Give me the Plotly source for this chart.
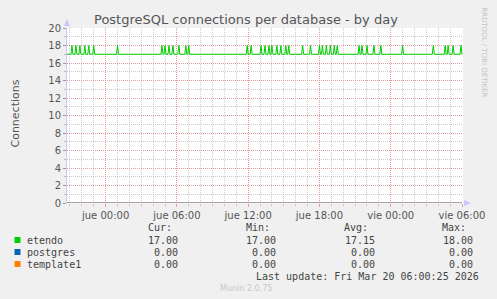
import plotly.graph_objects as go

# ---------------- data ----------------
series_names = ["etendo", "postgres", "template1"]
series_colors = ["#00CC00", "#0066B3", "#FF8000"]
stat_headers = ["Cur:", "Min:", "Avg:", "Max:"]
stat_cur = ["17.00", "0.00", "0.00"]
stat_min = ["17.00", "0.00", "0.00"]
stat_avg = ["17.15", "0.00", "0.00"]
stat_max = ["18.00", "0.00", "0.00"]

etendo_times = [
    "2026-03-18 20:45",
    "2026-03-18 21:05", "2026-03-18 21:10", "2026-03-18 21:15",
    "2026-03-18 21:25", "2026-03-18 21:30", "2026-03-18 21:35",
    "2026-03-18 21:45", "2026-03-18 21:50", "2026-03-18 21:55",
    "2026-03-18 22:10", "2026-03-18 22:15", "2026-03-18 22:20",
    "2026-03-18 22:30", "2026-03-18 22:35", "2026-03-18 22:40",
    "2026-03-18 22:55", "2026-03-18 23:00", "2026-03-18 23:05",
    "2026-03-19 00:55", "2026-03-19 01:00", "2026-03-19 01:05",
    "2026-03-19 04:40", "2026-03-19 04:45", "2026-03-19 04:50",
    "2026-03-19 04:55", "2026-03-19 05:00", "2026-03-19 05:05",
    "2026-03-19 05:15", "2026-03-19 05:20", "2026-03-19 05:25",
    "2026-03-19 05:35", "2026-03-19 05:40", "2026-03-19 05:45",
    "2026-03-19 06:05", "2026-03-19 06:10", "2026-03-19 06:15",
    "2026-03-19 06:40", "2026-03-19 06:45", "2026-03-19 06:50",
    "2026-03-19 06:55", "2026-03-19 07:00", "2026-03-19 07:05",
    "2026-03-19 11:50", "2026-03-19 11:55", "2026-03-19 12:00",
    "2026-03-19 12:10", "2026-03-19 12:15", "2026-03-19 12:20",
    "2026-03-19 13:00", "2026-03-19 13:05", "2026-03-19 13:10",
    "2026-03-19 13:20", "2026-03-19 13:25", "2026-03-19 13:30",
    "2026-03-19 13:40", "2026-03-19 13:45", "2026-03-19 13:50",
    "2026-03-19 13:55", "2026-03-19 14:00", "2026-03-19 14:05",
    "2026-03-19 14:20", "2026-03-19 14:25", "2026-03-19 14:30",
    "2026-03-19 14:40", "2026-03-19 14:45", "2026-03-19 14:50",
    "2026-03-19 15:05", "2026-03-19 15:10", "2026-03-19 15:15",
    "2026-03-19 15:20", "2026-03-19 15:25", "2026-03-19 15:30",
    "2026-03-19 16:30", "2026-03-19 16:35", "2026-03-19 16:40",
    "2026-03-19 17:10", "2026-03-19 17:15", "2026-03-19 17:20",
    "2026-03-19 17:55", "2026-03-19 18:00", "2026-03-19 18:05",
    "2026-03-19 18:10", "2026-03-19 18:15", "2026-03-19 18:20",
    "2026-03-19 18:30", "2026-03-19 18:35", "2026-03-19 18:40",
    "2026-03-19 18:50", "2026-03-19 18:55", "2026-03-19 19:00",
    "2026-03-19 19:10", "2026-03-19 19:15", "2026-03-19 19:20",
    "2026-03-19 19:25", "2026-03-19 19:30", "2026-03-19 19:35",
    "2026-03-19 21:15", "2026-03-19 21:20", "2026-03-19 21:25",
    "2026-03-19 21:30", "2026-03-19 21:35", "2026-03-19 21:40",
    "2026-03-19 21:55", "2026-03-19 22:00", "2026-03-19 22:05",
    "2026-03-19 22:30", "2026-03-19 22:35", "2026-03-19 22:40",
    "2026-03-19 23:05", "2026-03-19 23:10", "2026-03-19 23:15",
    "2026-03-20 00:55", "2026-03-20 01:00", "2026-03-20 01:05",
    "2026-03-20 03:30", "2026-03-20 03:35", "2026-03-20 03:40",
    "2026-03-20 04:30", "2026-03-20 04:35", "2026-03-20 04:40",
    "2026-03-20 04:45", "2026-03-20 04:50", "2026-03-20 04:55",
    "2026-03-20 05:10", "2026-03-20 05:15", "2026-03-20 05:20",
    "2026-03-20 05:50", "2026-03-20 05:55", "2026-03-20 06:00",
]
etendo_values = [17] + [17, 18, 17] * 43

postgres_times = ["2026-03-18 20:45", "2026-03-20 06:00"]
postgres_values = [0, 0]
template1_times = ["2026-03-18 20:45", "2026-03-20 06:00"]
template1_values = [0, 0]

x_tick_vals = ["2026-03-19 00:00", "2026-03-19 06:00", "2026-03-19 12:00",
               "2026-03-19 18:00", "2026-03-20 00:00", "2026-03-20 06:00"]
x_tick_text = ["jue 00:00", "jue 06:00", "jue 12:00",
               "jue 18:00", "vie 00:00", "vie 06:00"]
y_tick_vals = [0, 2, 4, 6, 8, 10, 12, 14, 16, 18, 20]

title_text = "PostgreSQL connections per database - by day"
y_title = "Connections"
side_text = "RRDTOOL / TOBI OETIKER"
last_update = "Last update: Fri Mar 20 06:00:25 2026"
footer = "Munin 2.0.75"

# ---------------- geometry ----------------
W, H = 497, 299
L, R, T, B = 67, 467, 28, 203


def px(x):
    return (x - L) / (R - L)


def py(y):
    return (B - y) / (B - T)


SANS = "DejaVu Sans"
MONO = "DejaVu Sans Mono"
MAJOR = "rgba(228,140,140,0.75)"
MINOR = "rgba(175,175,175,0.65)"
DOTS = "1px,1px"

fig = go.Figure()
fig.add_trace(go.Scatter(x=etendo_times, y=etendo_values, mode="lines",
                         line=dict(color=series_colors[0], width=1), showlegend=False))
fig.add_trace(go.Scatter(x=postgres_times, y=postgres_values, mode="lines",
                         line=dict(color=series_colors[1], width=1), showlegend=False))
fig.add_trace(go.Scatter(x=template1_times, y=template1_values, mode="lines",
                         line=dict(color="rgba(240,140,100,0.9)", width=1.2), showlegend=False))

fig.update_layout(
    width=W, height=H, autosize=False,
    margin=dict(l=L, r=W - R, t=T, b=H - B, pad=0),
    paper_bgcolor="#F0F0F0", plot_bgcolor="#FFFFFF",
    showlegend=False,
    font=dict(family=SANS, size=10, color="#555555"),
)

fig.update_xaxes(
    type="date",
    range=["2026-03-18 20:45", "2026-03-20 06:05"],
    tickmode="array", tickvals=x_tick_vals, ticktext=x_tick_text,
    showgrid=True, gridcolor=MAJOR, griddash=DOTS, gridwidth=1,
    ticks="outside", ticklen=3, tickcolor=MAJOR,
    tickfont=dict(family=SANS, size=10, color="#555555"),
    showline=False, zeroline=False,
    minor=dict(dtick=3600000, tick0="2026-03-19 00:00", showgrid=True,
               gridcolor=MINOR, griddash=DOTS, gridwidth=1,
               ticks="outside", ticklen=2, tickcolor=MINOR),
)
fig.update_yaxes(
    range=[0, 20],
    tickmode="array", tickvals=y_tick_vals,
    showgrid=True, gridcolor=MAJOR, griddash=DOTS, gridwidth=1,
    ticks="outside", ticklen=3, tickcolor="#999999",
    tickfont=dict(family=SANS, size=10, color="#555555"),
    showline=True, linecolor="#C8C8FF", linewidth=1,
    zeroline=False,
    minor=dict(dtick=1, showgrid=True, gridcolor=MINOR, griddash=DOTS,
               gridwidth=1, ticks="outside", ticklen=2, tickcolor="#BBBBBB"),
)

ann = []
ann.append(dict(x=px(248), y=py(19), xref="paper", yref="paper", text=title_text,
                showarrow=False, xanchor="center", yanchor="middle",
                font=dict(family=SANS, size=13, color="#555555")))
ann.append(dict(x=px(14), y=py(114), xref="paper", yref="paper", text=y_title,
                showarrow=False, xanchor="center", yanchor="middle", textangle=-90,
                font=dict(family=SANS, size=11, color="#555555")))
ann.append(dict(x=px(488), y=py(52), xref="paper", yref="paper", text=side_text,
                showarrow=False, xanchor="center", yanchor="middle", textangle=90,
                font=dict(family=SANS, size=7, color="#C4C4C4")))

# legend table
header_right = [173, 272, 371, 470]
value_right = [179, 278, 378, 477]
row_y = [240, 252, 264]
for hx, h in zip(header_right, stat_headers):
    ann.append(dict(x=px(hx + 2), y=py(227), xref="paper", yref="paper", text=h,
                    showarrow=False, xanchor="right", yanchor="middle",
                    font=dict(family=MONO, size=10, color="#444444")))

shapes = []
for i, name in enumerate(series_names):
    yy = row_y[i]
    shapes.append(dict(type="rect", xref="paper", yref="paper",
                       x0=px(14), x1=px(20), y0=py(yy - 3), y1=py(yy + 3),
                       fillcolor=series_colors[i], line=dict(width=0)))
    ann.append(dict(x=px(25), y=py(yy), xref="paper", yref="paper", text=name,
                    showarrow=False, xanchor="left", yanchor="middle",
                    font=dict(family=MONO, size=10, color="#444444")))
    vals = [stat_cur[i], stat_min[i], stat_avg[i], stat_max[i]]
    for vx, v in zip(value_right, vals):
        ann.append(dict(x=px(vx + 2), y=py(yy), xref="paper", yref="paper", text=v,
                        showarrow=False, xanchor="right", yanchor="middle",
                        font=dict(family=MONO, size=10, color="#444444")))

ann.append(dict(x=px(485), y=py(276), xref="paper", yref="paper", text=last_update,
                showarrow=False, xanchor="right", yanchor="middle",
                font=dict(family=MONO, size=10, color="#444444")))
ann.append(dict(x=px(248), y=py(288), xref="paper", yref="paper", text=footer,
                showarrow=False, xanchor="center", yanchor="middle",
                font=dict(family=SANS, size=8, color="#C8C8C8")))

# axis arrows
shapes.append(dict(type="path", xref="paper", yref="paper",
                   path=f"M {px(67)},{py(19)} L {px(64)},{py(26)} L {px(70)},{py(26)} Z",
                   fillcolor="#C8C8FF", line=dict(width=0)))
shapes.append(dict(type="path", xref="paper", yref="paper",
                   path=f"M {px(475)},{py(203)} L {px(468)},{py(200)} L {px(468)},{py(206)} Z",
                   fillcolor="#C8C8FF", line=dict(width=0)))

fig.update_layout(annotations=ann, shapes=shapes)
fig.write_html("out.html")
